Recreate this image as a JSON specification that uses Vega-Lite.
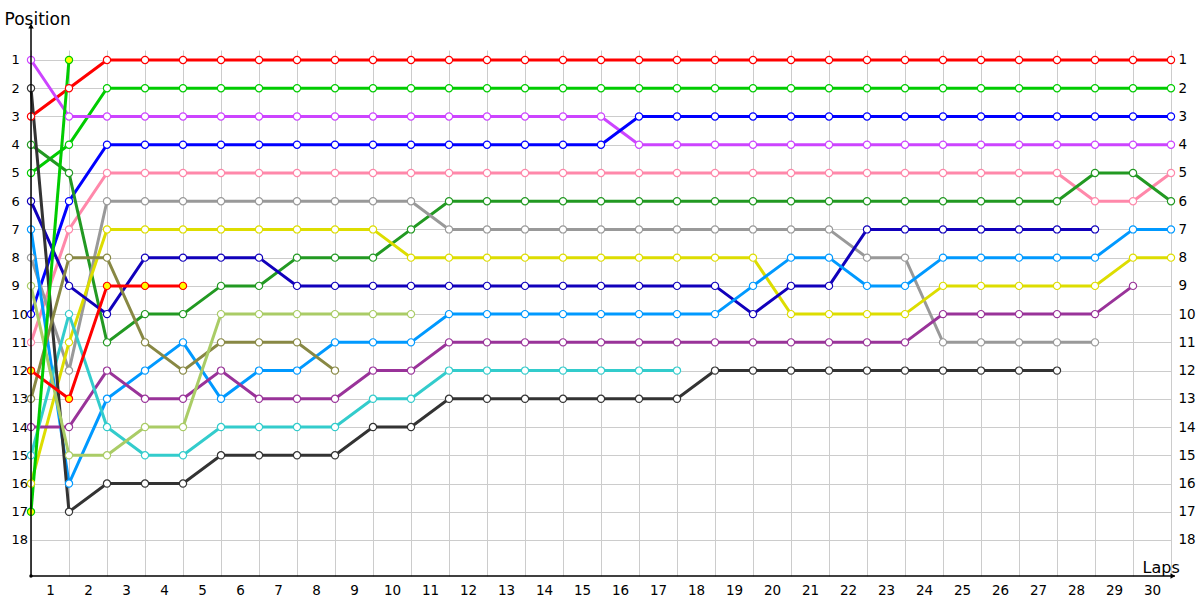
{
  "$schema": "https://vega.github.io/schema/vega-lite/v6.json",
  "width": 1140,
  "height": 526,
  "autosize": {"type": "none"},
  "padding": {"left": 31, "top": 50, "right": 29, "bottom": 24},
  "config": {"view": {"stroke": null}, "font": "DejaVu Sans",
    "axis": {"labelFont": "DejaVu Sans", "titleFont": "DejaVu Sans", "labelOverlap": false, "labelFlush": false}},
  "datasets": {
    "laps": [
      {"d":"Red","lap":0,"pos":3},{"d":"Red","lap":1,"pos":2},{"d":"Red","lap":2,"pos":1},{"d":"Red","lap":3,"pos":1},{"d":"Red","lap":4,"pos":1},{"d":"Red","lap":5,"pos":1},{"d":"Red","lap":6,"pos":1},{"d":"Red","lap":7,"pos":1},{"d":"Red","lap":8,"pos":1},{"d":"Red","lap":9,"pos":1},{"d":"Red","lap":10,"pos":1},{"d":"Red","lap":11,"pos":1},{"d":"Red","lap":12,"pos":1},{"d":"Red","lap":13,"pos":1},{"d":"Red","lap":14,"pos":1},{"d":"Red","lap":15,"pos":1},{"d":"Red","lap":16,"pos":1},{"d":"Red","lap":17,"pos":1},{"d":"Red","lap":18,"pos":1},{"d":"Red","lap":19,"pos":1},{"d":"Red","lap":20,"pos":1},{"d":"Red","lap":21,"pos":1},{"d":"Red","lap":22,"pos":1},{"d":"Red","lap":23,"pos":1},{"d":"Red","lap":24,"pos":1},{"d":"Red","lap":25,"pos":1},{"d":"Red","lap":26,"pos":1},{"d":"Red","lap":27,"pos":1},{"d":"Red","lap":28,"pos":1},{"d":"Red","lap":29,"pos":1},{"d":"Red","lap":30,"pos":1},
      {"d":"Green","lap":0,"pos":5},{"d":"Green","lap":1,"pos":4},{"d":"Green","lap":2,"pos":2},{"d":"Green","lap":3,"pos":2},{"d":"Green","lap":4,"pos":2},{"d":"Green","lap":5,"pos":2},{"d":"Green","lap":6,"pos":2},{"d":"Green","lap":7,"pos":2},{"d":"Green","lap":8,"pos":2},{"d":"Green","lap":9,"pos":2},{"d":"Green","lap":10,"pos":2},{"d":"Green","lap":11,"pos":2},{"d":"Green","lap":12,"pos":2},{"d":"Green","lap":13,"pos":2},{"d":"Green","lap":14,"pos":2},{"d":"Green","lap":15,"pos":2},{"d":"Green","lap":16,"pos":2},{"d":"Green","lap":17,"pos":2},{"d":"Green","lap":18,"pos":2},{"d":"Green","lap":19,"pos":2},{"d":"Green","lap":20,"pos":2},{"d":"Green","lap":21,"pos":2},{"d":"Green","lap":22,"pos":2},{"d":"Green","lap":23,"pos":2},{"d":"Green","lap":24,"pos":2},{"d":"Green","lap":25,"pos":2},{"d":"Green","lap":26,"pos":2},{"d":"Green","lap":27,"pos":2},{"d":"Green","lap":28,"pos":2},{"d":"Green","lap":29,"pos":2},{"d":"Green","lap":30,"pos":2},
      {"d":"Violet","lap":0,"pos":1},{"d":"Violet","lap":1,"pos":3},{"d":"Violet","lap":2,"pos":3},{"d":"Violet","lap":3,"pos":3},{"d":"Violet","lap":4,"pos":3},{"d":"Violet","lap":5,"pos":3},{"d":"Violet","lap":6,"pos":3},{"d":"Violet","lap":7,"pos":3},{"d":"Violet","lap":8,"pos":3},{"d":"Violet","lap":9,"pos":3},{"d":"Violet","lap":10,"pos":3},{"d":"Violet","lap":11,"pos":3},{"d":"Violet","lap":12,"pos":3},{"d":"Violet","lap":13,"pos":3},{"d":"Violet","lap":14,"pos":3},{"d":"Violet","lap":15,"pos":3},{"d":"Violet","lap":16,"pos":4},{"d":"Violet","lap":17,"pos":4},{"d":"Violet","lap":18,"pos":4},{"d":"Violet","lap":19,"pos":4},{"d":"Violet","lap":20,"pos":4},{"d":"Violet","lap":21,"pos":4},{"d":"Violet","lap":22,"pos":4},{"d":"Violet","lap":23,"pos":4},{"d":"Violet","lap":24,"pos":4},{"d":"Violet","lap":25,"pos":4},{"d":"Violet","lap":26,"pos":4},{"d":"Violet","lap":27,"pos":4},{"d":"Violet","lap":28,"pos":4},{"d":"Violet","lap":29,"pos":4},{"d":"Violet","lap":30,"pos":4},
      {"d":"Blue","lap":0,"pos":10},{"d":"Blue","lap":1,"pos":6},{"d":"Blue","lap":2,"pos":4},{"d":"Blue","lap":3,"pos":4},{"d":"Blue","lap":4,"pos":4},{"d":"Blue","lap":5,"pos":4},{"d":"Blue","lap":6,"pos":4},{"d":"Blue","lap":7,"pos":4},{"d":"Blue","lap":8,"pos":4},{"d":"Blue","lap":9,"pos":4},{"d":"Blue","lap":10,"pos":4},{"d":"Blue","lap":11,"pos":4},{"d":"Blue","lap":12,"pos":4},{"d":"Blue","lap":13,"pos":4},{"d":"Blue","lap":14,"pos":4},{"d":"Blue","lap":15,"pos":4},{"d":"Blue","lap":16,"pos":3},{"d":"Blue","lap":17,"pos":3},{"d":"Blue","lap":18,"pos":3},{"d":"Blue","lap":19,"pos":3},{"d":"Blue","lap":20,"pos":3},{"d":"Blue","lap":21,"pos":3},{"d":"Blue","lap":22,"pos":3},{"d":"Blue","lap":23,"pos":3},{"d":"Blue","lap":24,"pos":3},{"d":"Blue","lap":25,"pos":3},{"d":"Blue","lap":26,"pos":3},{"d":"Blue","lap":27,"pos":3},{"d":"Blue","lap":28,"pos":3},{"d":"Blue","lap":29,"pos":3},{"d":"Blue","lap":30,"pos":3},
      {"d":"Pink","lap":0,"pos":11},{"d":"Pink","lap":1,"pos":7},{"d":"Pink","lap":2,"pos":5},{"d":"Pink","lap":3,"pos":5},{"d":"Pink","lap":4,"pos":5},{"d":"Pink","lap":5,"pos":5},{"d":"Pink","lap":6,"pos":5},{"d":"Pink","lap":7,"pos":5},{"d":"Pink","lap":8,"pos":5},{"d":"Pink","lap":9,"pos":5},{"d":"Pink","lap":10,"pos":5},{"d":"Pink","lap":11,"pos":5},{"d":"Pink","lap":12,"pos":5},{"d":"Pink","lap":13,"pos":5},{"d":"Pink","lap":14,"pos":5},{"d":"Pink","lap":15,"pos":5},{"d":"Pink","lap":16,"pos":5},{"d":"Pink","lap":17,"pos":5},{"d":"Pink","lap":18,"pos":5},{"d":"Pink","lap":19,"pos":5},{"d":"Pink","lap":20,"pos":5},{"d":"Pink","lap":21,"pos":5},{"d":"Pink","lap":22,"pos":5},{"d":"Pink","lap":23,"pos":5},{"d":"Pink","lap":24,"pos":5},{"d":"Pink","lap":25,"pos":5},{"d":"Pink","lap":26,"pos":5},{"d":"Pink","lap":27,"pos":5},{"d":"Pink","lap":28,"pos":6},{"d":"Pink","lap":29,"pos":6},{"d":"Pink","lap":30,"pos":5},
      {"d":"DarkGreen","lap":0,"pos":4},{"d":"DarkGreen","lap":1,"pos":5},{"d":"DarkGreen","lap":2,"pos":11},{"d":"DarkGreen","lap":3,"pos":10},{"d":"DarkGreen","lap":4,"pos":10},{"d":"DarkGreen","lap":5,"pos":9},{"d":"DarkGreen","lap":6,"pos":9},{"d":"DarkGreen","lap":7,"pos":8},{"d":"DarkGreen","lap":8,"pos":8},{"d":"DarkGreen","lap":9,"pos":8},{"d":"DarkGreen","lap":10,"pos":7},{"d":"DarkGreen","lap":11,"pos":6},{"d":"DarkGreen","lap":12,"pos":6},{"d":"DarkGreen","lap":13,"pos":6},{"d":"DarkGreen","lap":14,"pos":6},{"d":"DarkGreen","lap":15,"pos":6},{"d":"DarkGreen","lap":16,"pos":6},{"d":"DarkGreen","lap":17,"pos":6},{"d":"DarkGreen","lap":18,"pos":6},{"d":"DarkGreen","lap":19,"pos":6},{"d":"DarkGreen","lap":20,"pos":6},{"d":"DarkGreen","lap":21,"pos":6},{"d":"DarkGreen","lap":22,"pos":6},{"d":"DarkGreen","lap":23,"pos":6},{"d":"DarkGreen","lap":24,"pos":6},{"d":"DarkGreen","lap":25,"pos":6},{"d":"DarkGreen","lap":26,"pos":6},{"d":"DarkGreen","lap":27,"pos":6},{"d":"DarkGreen","lap":28,"pos":5},{"d":"DarkGreen","lap":29,"pos":5},{"d":"DarkGreen","lap":30,"pos":6},
      {"d":"Grey","lap":0,"pos":8},{"d":"Grey","lap":1,"pos":12},{"d":"Grey","lap":2,"pos":6},{"d":"Grey","lap":3,"pos":6},{"d":"Grey","lap":4,"pos":6},{"d":"Grey","lap":5,"pos":6},{"d":"Grey","lap":6,"pos":6},{"d":"Grey","lap":7,"pos":6},{"d":"Grey","lap":8,"pos":6},{"d":"Grey","lap":9,"pos":6},{"d":"Grey","lap":10,"pos":6},{"d":"Grey","lap":11,"pos":7},{"d":"Grey","lap":12,"pos":7},{"d":"Grey","lap":13,"pos":7},{"d":"Grey","lap":14,"pos":7},{"d":"Grey","lap":15,"pos":7},{"d":"Grey","lap":16,"pos":7},{"d":"Grey","lap":17,"pos":7},{"d":"Grey","lap":18,"pos":7},{"d":"Grey","lap":19,"pos":7},{"d":"Grey","lap":20,"pos":7},{"d":"Grey","lap":21,"pos":7},{"d":"Grey","lap":22,"pos":8},{"d":"Grey","lap":23,"pos":8},{"d":"Grey","lap":24,"pos":11},{"d":"Grey","lap":25,"pos":11},{"d":"Grey","lap":26,"pos":11},{"d":"Grey","lap":27,"pos":11},{"d":"Grey","lap":28,"pos":11},
      {"d":"Yellow","lap":0,"pos":16},{"d":"Yellow","lap":1,"pos":11},{"d":"Yellow","lap":2,"pos":7},{"d":"Yellow","lap":3,"pos":7},{"d":"Yellow","lap":4,"pos":7},{"d":"Yellow","lap":5,"pos":7},{"d":"Yellow","lap":6,"pos":7},{"d":"Yellow","lap":7,"pos":7},{"d":"Yellow","lap":8,"pos":7},{"d":"Yellow","lap":9,"pos":7},{"d":"Yellow","lap":10,"pos":8},{"d":"Yellow","lap":11,"pos":8},{"d":"Yellow","lap":12,"pos":8},{"d":"Yellow","lap":13,"pos":8},{"d":"Yellow","lap":14,"pos":8},{"d":"Yellow","lap":15,"pos":8},{"d":"Yellow","lap":16,"pos":8},{"d":"Yellow","lap":17,"pos":8},{"d":"Yellow","lap":18,"pos":8},{"d":"Yellow","lap":19,"pos":8},{"d":"Yellow","lap":20,"pos":10},{"d":"Yellow","lap":21,"pos":10},{"d":"Yellow","lap":22,"pos":10},{"d":"Yellow","lap":23,"pos":10},{"d":"Yellow","lap":24,"pos":9},{"d":"Yellow","lap":25,"pos":9},{"d":"Yellow","lap":26,"pos":9},{"d":"Yellow","lap":27,"pos":9},{"d":"Yellow","lap":28,"pos":9},{"d":"Yellow","lap":29,"pos":8},{"d":"Yellow","lap":30,"pos":8},
      {"d":"Navy","lap":0,"pos":6},{"d":"Navy","lap":1,"pos":9},{"d":"Navy","lap":2,"pos":10},{"d":"Navy","lap":3,"pos":8},{"d":"Navy","lap":4,"pos":8},{"d":"Navy","lap":5,"pos":8},{"d":"Navy","lap":6,"pos":8},{"d":"Navy","lap":7,"pos":9},{"d":"Navy","lap":8,"pos":9},{"d":"Navy","lap":9,"pos":9},{"d":"Navy","lap":10,"pos":9},{"d":"Navy","lap":11,"pos":9},{"d":"Navy","lap":12,"pos":9},{"d":"Navy","lap":13,"pos":9},{"d":"Navy","lap":14,"pos":9},{"d":"Navy","lap":15,"pos":9},{"d":"Navy","lap":16,"pos":9},{"d":"Navy","lap":17,"pos":9},{"d":"Navy","lap":18,"pos":9},{"d":"Navy","lap":19,"pos":10},{"d":"Navy","lap":20,"pos":9},{"d":"Navy","lap":21,"pos":9},{"d":"Navy","lap":22,"pos":7},{"d":"Navy","lap":23,"pos":7},{"d":"Navy","lap":24,"pos":7},{"d":"Navy","lap":25,"pos":7},{"d":"Navy","lap":26,"pos":7},{"d":"Navy","lap":27,"pos":7},{"d":"Navy","lap":28,"pos":7},
      {"d":"SkyBlue","lap":0,"pos":7},{"d":"SkyBlue","lap":1,"pos":16},{"d":"SkyBlue","lap":2,"pos":13},{"d":"SkyBlue","lap":3,"pos":12},{"d":"SkyBlue","lap":4,"pos":11},{"d":"SkyBlue","lap":5,"pos":13},{"d":"SkyBlue","lap":6,"pos":12},{"d":"SkyBlue","lap":7,"pos":12},{"d":"SkyBlue","lap":8,"pos":11},{"d":"SkyBlue","lap":9,"pos":11},{"d":"SkyBlue","lap":10,"pos":11},{"d":"SkyBlue","lap":11,"pos":10},{"d":"SkyBlue","lap":12,"pos":10},{"d":"SkyBlue","lap":13,"pos":10},{"d":"SkyBlue","lap":14,"pos":10},{"d":"SkyBlue","lap":15,"pos":10},{"d":"SkyBlue","lap":16,"pos":10},{"d":"SkyBlue","lap":17,"pos":10},{"d":"SkyBlue","lap":18,"pos":10},{"d":"SkyBlue","lap":19,"pos":9},{"d":"SkyBlue","lap":20,"pos":8},{"d":"SkyBlue","lap":21,"pos":8},{"d":"SkyBlue","lap":22,"pos":9},{"d":"SkyBlue","lap":23,"pos":9},{"d":"SkyBlue","lap":24,"pos":8},{"d":"SkyBlue","lap":25,"pos":8},{"d":"SkyBlue","lap":26,"pos":8},{"d":"SkyBlue","lap":27,"pos":8},{"d":"SkyBlue","lap":28,"pos":8},{"d":"SkyBlue","lap":29,"pos":7},{"d":"SkyBlue","lap":30,"pos":7},
      {"d":"Plum","lap":0,"pos":14},{"d":"Plum","lap":1,"pos":14},{"d":"Plum","lap":2,"pos":12},{"d":"Plum","lap":3,"pos":13},{"d":"Plum","lap":4,"pos":13},{"d":"Plum","lap":5,"pos":12},{"d":"Plum","lap":6,"pos":13},{"d":"Plum","lap":7,"pos":13},{"d":"Plum","lap":8,"pos":13},{"d":"Plum","lap":9,"pos":12},{"d":"Plum","lap":10,"pos":12},{"d":"Plum","lap":11,"pos":11},{"d":"Plum","lap":12,"pos":11},{"d":"Plum","lap":13,"pos":11},{"d":"Plum","lap":14,"pos":11},{"d":"Plum","lap":15,"pos":11},{"d":"Plum","lap":16,"pos":11},{"d":"Plum","lap":17,"pos":11},{"d":"Plum","lap":18,"pos":11},{"d":"Plum","lap":19,"pos":11},{"d":"Plum","lap":20,"pos":11},{"d":"Plum","lap":21,"pos":11},{"d":"Plum","lap":22,"pos":11},{"d":"Plum","lap":23,"pos":11},{"d":"Plum","lap":24,"pos":10},{"d":"Plum","lap":25,"pos":10},{"d":"Plum","lap":26,"pos":10},{"d":"Plum","lap":27,"pos":10},{"d":"Plum","lap":28,"pos":10},{"d":"Plum","lap":29,"pos":9},
      {"d":"Teal","lap":0,"pos":15},{"d":"Teal","lap":1,"pos":10},{"d":"Teal","lap":2,"pos":14},{"d":"Teal","lap":3,"pos":15},{"d":"Teal","lap":4,"pos":15},{"d":"Teal","lap":5,"pos":14},{"d":"Teal","lap":6,"pos":14},{"d":"Teal","lap":7,"pos":14},{"d":"Teal","lap":8,"pos":14},{"d":"Teal","lap":9,"pos":13},{"d":"Teal","lap":10,"pos":13},{"d":"Teal","lap":11,"pos":12},{"d":"Teal","lap":12,"pos":12},{"d":"Teal","lap":13,"pos":12},{"d":"Teal","lap":14,"pos":12},{"d":"Teal","lap":15,"pos":12},{"d":"Teal","lap":16,"pos":12},{"d":"Teal","lap":17,"pos":12},
      {"d":"Charcoal","lap":0,"pos":2},{"d":"Charcoal","lap":1,"pos":17},{"d":"Charcoal","lap":2,"pos":16},{"d":"Charcoal","lap":3,"pos":16},{"d":"Charcoal","lap":4,"pos":16},{"d":"Charcoal","lap":5,"pos":15},{"d":"Charcoal","lap":6,"pos":15},{"d":"Charcoal","lap":7,"pos":15},{"d":"Charcoal","lap":8,"pos":15},{"d":"Charcoal","lap":9,"pos":14},{"d":"Charcoal","lap":10,"pos":14},{"d":"Charcoal","lap":11,"pos":13},{"d":"Charcoal","lap":12,"pos":13},{"d":"Charcoal","lap":13,"pos":13},{"d":"Charcoal","lap":14,"pos":13},{"d":"Charcoal","lap":15,"pos":13},{"d":"Charcoal","lap":16,"pos":13},{"d":"Charcoal","lap":17,"pos":13},{"d":"Charcoal","lap":18,"pos":12},{"d":"Charcoal","lap":19,"pos":12},{"d":"Charcoal","lap":20,"pos":12},{"d":"Charcoal","lap":21,"pos":12},{"d":"Charcoal","lap":22,"pos":12},{"d":"Charcoal","lap":23,"pos":12},{"d":"Charcoal","lap":24,"pos":12},{"d":"Charcoal","lap":25,"pos":12},{"d":"Charcoal","lap":26,"pos":12},{"d":"Charcoal","lap":27,"pos":12},
      {"d":"Olive","lap":0,"pos":13},{"d":"Olive","lap":1,"pos":8},{"d":"Olive","lap":2,"pos":8},{"d":"Olive","lap":3,"pos":11},{"d":"Olive","lap":4,"pos":12},{"d":"Olive","lap":5,"pos":11},{"d":"Olive","lap":6,"pos":11},{"d":"Olive","lap":7,"pos":11},{"d":"Olive","lap":8,"pos":12},
      {"d":"Lime","lap":0,"pos":9},{"d":"Lime","lap":1,"pos":15},{"d":"Lime","lap":2,"pos":15},{"d":"Lime","lap":3,"pos":14},{"d":"Lime","lap":4,"pos":14},{"d":"Lime","lap":5,"pos":10},{"d":"Lime","lap":6,"pos":10},{"d":"Lime","lap":7,"pos":10},{"d":"Lime","lap":8,"pos":10},{"d":"Lime","lap":9,"pos":10},{"d":"Lime","lap":10,"pos":10},
      {"d":"RedYellow","lap":0,"pos":12},{"d":"RedYellow","lap":1,"pos":13},{"d":"RedYellow","lap":2,"pos":9},{"d":"RedYellow","lap":3,"pos":9},{"d":"RedYellow","lap":4,"pos":9},
      {"d":"GreenYellow","lap":0,"pos":17},{"d":"GreenYellow","lap":1,"pos":1}
    ]
  },
  "resolve": {"scale": {"x": "independent", "y": "independent"}},
  "layer": [
    {
      "data": {"name": "laps"},
      "encoding": {
        "x": {"field": "lap", "type": "quantitative", "scale": {"domain": [0, 30], "nice": false, "zero": false},
          "axis": {"values": [0,1,2,3,4,5,6,7,8,9,10,11,12,13,14,15,16,17,18,19,20,21,22,23,24,25,26,27,28,29,30],
            "grid": true, "gridColor": "#cccccc", "gridWidth": 1, "domain": false, "ticks": false, "tickSize": 0,
            "labelExpr": "datum.value < 30 ? '' + (datum.value + 1) : ''", "labelOffset": 19, "labelPadding": 7,
            "labelFlush": false, "labelFontSize": 13.5, "labelColor": "#000000", "labelOverlap": false,
            "title": "Laps", "titleFontSize": 16, "titleFontWeight": "normal", "titleColor": "#000000",
            "titleAlign": "left", "titleAnchor": "start", "titleBaseline": "alphabetic", "titleX": 1111, "titleY": -4}},
        "y": {"field": "pos", "type": "quantitative", "scale": {"domain": [0.646, 19.275], "reverse": true, "nice": false, "zero": false},
          "axis": {"values": [1,2,3,4,5,6,7,8,9,10,11,12,13,14,15,16,17,18],
            "grid": true, "gridColor": "#cccccc", "gridWidth": 1, "domain": false, "ticks": false, "tickSize": 0,
            "labelAlign": "left", "labelPadding": 20, "labelBaseline": "middle", "labelFlush": false,
            "labelFontSize": 13, "labelColor": "#000000", "labelOverlap": false,
            "title": "Position", "titleAngle": 0, "titleFontSize": 17, "titleFontWeight": "normal", "titleColor": "#000000",
            "titleAlign": "left", "titleAnchor": "start", "titleBaseline": "alphabetic", "titleX": -27, "titleY": -26}}
      },
      "layer": [
        {
          "mark": {"type": "line", "strokeWidth": 3, "clip": false},
          "encoding": {
            "color": {"field": "d", "type": "nominal", "legend": null,
              "scale": {"domain": ["Red","Green","Violet","Blue","Pink","DarkGreen","Grey","Yellow","Navy","SkyBlue","Plum","Teal","Charcoal","Olive","Lime","RedYellow","GreenYellow"],
                "range": ["#ff0000","#00cc00","#cc44ff","#0000ff","#ff88aa","#229922","#999999","#dddd00","#1100bb","#0099ff","#993399","#33cccc","#333333","#888844","#aacc66","#ff0000","#00cc00"]}},
            "order": {"field": "lap", "type": "quantitative"}
          }
        },
        {
          "mark": {"type": "point", "size": 52, "strokeWidth": 1.2, "opacity": 1, "fillOpacity": 1, "clip": false},
          "encoding": {
            "stroke": {"field": "d", "type": "nominal", "legend": null,
              "scale": {"domain": ["Red","Green","Violet","Blue","Pink","DarkGreen","Grey","Yellow","Navy","SkyBlue","Plum","Teal","Charcoal","Olive","Lime","RedYellow","GreenYellow"],
                "range": ["#ff0000","#00cc00","#cc44ff","#0000ff","#ff88aa","#229922","#999999","#dddd00","#1100bb","#0099ff","#993399","#33cccc","#333333","#888844","#aacc66","#ff0000","#00cc00"]}},
            "fill": {"field": "d", "type": "nominal", "legend": null,
              "scale": {"domain": ["Red","Green","Violet","Blue","Pink","DarkGreen","Grey","Yellow","Navy","SkyBlue","Plum","Teal","Charcoal","Olive","Lime","RedYellow","GreenYellow"],
                "range": ["#ffffff","#ffffff","#ffffff","#ffffff","#ffffff","#ffffff","#ffffff","#ffffff","#ffffff","#ffffff","#ffffff","#ffffff","#ffffff","#ffffff","#ffffff","#ffff00","#ffff00"]}}
          }
        }
      ]
    },
    {
      "data": {"values": [{}]},
      "layer": [
        {
          "mark": {"type": "rule", "color": "#000000", "strokeWidth": 1.5, "clip": false},
          "encoding": {
            "x": {"datum": 0, "axis": null, "scale": {"domain": [0, 30], "nice": false, "zero": false}},
            "y": {"datum": -0.25, "axis": null, "scale": {"domain": [0.646, 19.275], "reverse": true, "nice": false, "zero": false}},
            "y2": {"datum": 19.275}
          }
        },
        {
          "mark": {"type": "rule", "color": "#000000", "strokeWidth": 1.5, "clip": false},
          "encoding": {
            "x": {"datum": 0, "axis": null},
            "x2": {"datum": 30.1},
            "y": {"datum": 19.275, "axis": null}
          }
        },
        {
          "mark": {"type": "point", "shape": "triangle-up", "filled": true, "color": "#000000", "size": 30, "opacity": 1, "clip": false},
          "encoding": {
            "x": {"datum": 0, "axis": null},
            "y": {"datum": -0.2, "axis": null}
          }
        },
        {
          "mark": {"type": "point", "shape": "triangle-right", "filled": true, "color": "#000000", "size": 30, "opacity": 1, "clip": false},
          "encoding": {
            "x": {"datum": 30.05, "axis": null},
            "y": {"datum": 19.275, "axis": null}
          }
        },
        {
          "mark": {"type": "point", "shape": "circle", "filled": true, "color": "#000000", "size": 12, "opacity": 1, "clip": false},
          "encoding": {
            "x": {"datum": 0, "axis": null},
            "y": {"datum": 19.275, "axis": null}
          }
        }
      ]
    },
    {
      "data": {"name": "laps"},
      "mark": {"type": "point", "opacity": 0},
      "encoding": {
        "x": {"field": "lap", "type": "quantitative", "axis": null, "scale": {"domain": [0, 30], "nice": false, "zero": false}},
        "y": {"field": "pos", "type": "quantitative", "scale": {"domain": [0.646, 19.275], "reverse": true, "nice": false, "zero": false},
          "axis": {"orient": "right", "values": [1,2,3,4,5,6,7,8,9,10,11,12,13,14,15,16,17,18],
            "grid": false, "domain": false, "ticks": false, "tickSize": 0,
            "labelAlign": "left", "labelPadding": 7, "labelBaseline": "middle", "labelFlush": false,
            "labelFontSize": 13.5, "labelColor": "#000000", "labelOverlap": false, "title": null}}
      }
    }
  ]
}
